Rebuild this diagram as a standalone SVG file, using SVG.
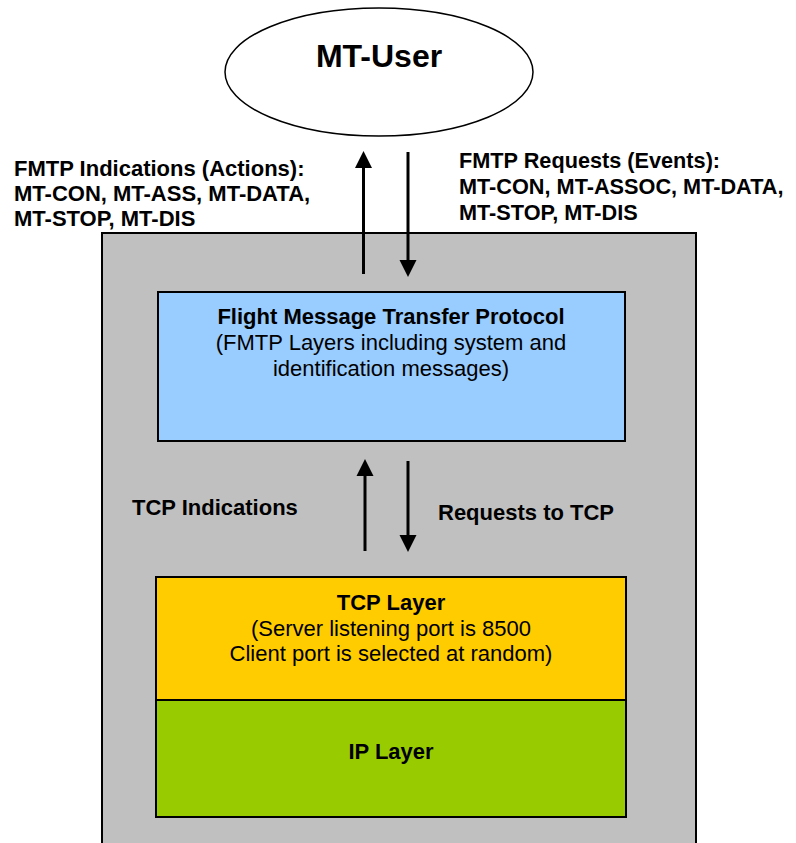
<svg xmlns="http://www.w3.org/2000/svg" width="796" height="843" viewBox="0 0 796 843">
<style>
text{font-family:"Liberation Sans",Arial,sans-serif;font-size:22px;fill:#000}
.b{font-weight:bold}
.c{text-anchor:middle}
.box{stroke:#000;stroke-width:2}
.ln{stroke:#000;stroke-width:3;fill:none}
.hd{fill:#000}
</style>
<rect width="796" height="843" fill="#fff"/>
<g id="system">
<rect class="box" x="102" y="233" width="594" height="620" fill="#c0c0c0"/>
</g>
<g id="mt-user">
<ellipse cx="379" cy="72" rx="154" ry="64" fill="#fff" stroke="#000" stroke-width="1.5"/>
<text class="b c" x="379" y="67" style="font-size:32px">MT-User</text>
</g>
<g id="fmtp">
<rect class="box" x="158" y="292" width="467" height="149" fill="#99ccff"/>
<text class="b c" x="391" y="324">Flight Message Transfer Protocol</text>
<text class="c" x="391" y="350">(FMTP Layers including system and</text>
<text class="c" x="391" y="376">identification messages)</text>
</g>
<g id="tcp">
<rect class="box" x="156" y="577" width="470" height="123" fill="#ffcc00"/>
<text class="b c" x="391" y="610">TCP Layer</text>
<text class="c" x="391" y="636">(Server listening port is 8500</text>
<text class="c" x="391" y="661">Client port is selected at random)</text>
</g>
<g id="ip">
<rect class="box" x="156" y="700" width="470" height="117" fill="#99cc00"/>
<text class="b c" x="391" y="759">IP Layer</text>
</g>
<g id="labels">
<text class="b" x="14" y="176">FMTP Indications (Actions):</text>
<text class="b" x="14" y="201">MT-CON, MT-ASS, MT-DATA,</text>
<text class="b" x="14" y="226">MT-STOP, MT-DIS</text>
<text class="b" x="459" y="168" style="font-size:21.7px">FMTP Requests (Events):</text>
<text class="b" x="459" y="194" style="font-size:21.7px">MT-CON, MT-ASSOC, MT-DATA,</text>
<text class="b" x="459" y="220" style="font-size:21.7px">MT-STOP, MT-DIS</text>
<text class="b" x="132" y="515">TCP Indications</text>
<text class="b" x="438" y="520">Requests to TCP</text>
</g>
<g id="connectors">
<line class="ln" x1="363.5" y1="274" x2="363.5" y2="166"/>
<polygon class="hd" points="363.5,151 372,168 355,168"/>
<line class="ln" x1="408" y1="152" x2="408" y2="262"/>
<polygon class="hd" points="408,277 416.5,260 399.5,260"/>
<line class="ln" x1="365" y1="551" x2="365" y2="474"/>
<polygon class="hd" points="365,459 373.5,476 356.5,476"/>
<line class="ln" x1="408" y1="461" x2="408" y2="537"/>
<polygon class="hd" points="408,552 416.5,535 399.5,535"/>
</g>
</svg>
